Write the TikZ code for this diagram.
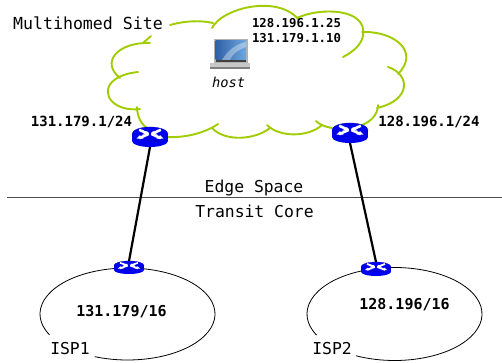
\documentclass[tikz,border=0pt]{standalone}
\usepackage{fontspec}
\setmainfont{DejaVu Sans Mono}
\definecolor{cloudgreen}{HTML}{A0CC00}
\definecolor{routerblue}{HTML}{0000F0}
\definecolor{routerdark}{HTML}{0000A8}
\definecolor{lapdark}{HTML}{2F5FA8}
\definecolor{laplight}{HTML}{6FA8DC}
\tikzset{
  cloudarc/.style={draw=cloudgreen,line width=1.9pt,line cap=round},
  txt/.style={inner sep=0pt,anchor=base,font=\fontsize{#1}{#1}\selectfont},
  boldtxt/.style={inner sep=0pt,anchor=base,font=\fontsize{#1}{#1}\selectfont\bfseries},
  uplink/.style={draw=black,line width=2.2pt},
  ispring/.style={draw=black,line width=0.8pt}
}
% name, x, y, width, height
\newcommand{\routericon}[5]{%
  \node[inner sep=0pt,outer sep=0pt,minimum width=#4pt,minimum height=#5pt] (#1) at (#2,#3) {};
  \begin{scope}[shift={(#1.center)},x=#4pt/2,y=-#5pt/2]
    \fill[routerblue] (-1,-0.3) rectangle (1,0.4);
    \fill[routerblue] (0,0.4) ellipse [x radius=1,y radius=0.6];
    \fill[routerblue] (0,-0.3) ellipse [x radius=1,y radius=0.7];
    \draw[routerdark,line width=0.3pt] (0,-0.3) ellipse [x radius=1,y radius=0.7];
    \draw[white,line width=#5pt*0.13] (-0.6,-0.72) -- (-0.08,-0.3);
    \draw[white,line width=#5pt*0.13] (0.6,0.12) -- (0.08,-0.3);
    \draw[white,line width=#5pt*0.13] (0.6,-0.72) -- (0.08,-0.3);
    \draw[white,line width=#5pt*0.13] (-0.6,0.12) -- (-0.08,-0.3);
    \fill[white] (-0.1,-0.28) -- (-0.42,-0.24) -- (-0.16,-0.6) -- cycle;
    \fill[white] (0.1,-0.28) -- (0.42,-0.24) -- (0.16,-0.6) -- cycle;
    \fill[white] (-0.75,0.16) -- (-0.36,0.16) -- (-0.56,-0.18) -- cycle;
    \fill[white] (0.75,0.16) -- (0.36,0.16) -- (0.56,-0.18) -- cycle;
  \end{scope}}
\begin{document}
\begin{tikzpicture}[x=1pt,y=-1pt]
\useasboundingbox (0,0) rectangle (502,363);
\fill[white] (0,0) rectangle (502,363);

% cloud
\draw[cloudarc] (170,25) .. controls (184,21) and (200,20) .. (213,23);
\draw[cloudarc] (212,28) .. controls (222,8) and (278,-6) .. (299,20);
\draw[cloudarc] (297,18) .. controls (320,7) and (368,8) .. (363,36) .. controls (361,45) and (353,52) .. (343,57);
\draw[cloudarc] (362,32) .. controls (395,31) and (420,52) .. (398,74);
\draw[cloudarc] (388,67) .. controls (410,74) and (412,100) .. (377,108);
\draw[cloudarc] (378,105) .. controls (378,115) and (370,122) .. (362,125);
\draw[cloudarc] (316,121) .. controls (320,125) and (326,127) .. (332,128);
\draw[cloudarc] (322,125) .. controls (309,137) and (280,138) .. (267,125);
\draw[cloudarc] (270,128) .. controls (255,140) and (225,142) .. (212,128);
\draw[cloudarc] (218,124) .. controls (205,133) and (185,138) .. (167,137);
\draw[cloudarc] (147,128) .. controls (141,124) and (137,116) .. (137,107);
\draw[cloudarc] (140,109) .. controls (115,112) and (100,95) .. (112,82) .. controls (118,76) and (128,73) .. (138,72);
\draw[cloudarc] (120,78) .. controls (100,62) and (118,42) .. (150,43);
\draw[cloudarc] (143,43) -- (151,36);

% laptop
\fill[black!30] (213.5,39) rectangle (248,63);
\shade[left color=lapdark,right color=laplight] (215.5,41) rectangle (246,60);
\fill[white,opacity=0.35] (222,60) .. controls (228,50) and (236,44) .. (246,42) -- (246,47) .. controls (238,50) and (232,54) .. (230,60) -- cycle;
\fill[black!75] (215.5,60) rectangle (246,62);
\fill[black!22] (210,63) rectangle (250,67);
\fill[black!50] (210,67) rectangle (250,69);

% horizon
\draw[draw=black!70,line width=0.8pt] (7,197.5) -- (502,197.5);

% ISP rings
\coordinate (ispa) at (127.5,314);
\coordinate (ispb) at (394.5,314);
\draw[ispring] ([shift={(153:87.5 and 46)}]ispa) arc[start angle=153,end angle=472,x radius=87.5,y radius=46];
\draw[ispring] ([shift={(153:87.5 and 46.5)}]ispb) arc[start angle=153,end angle=476,x radius=87.5,y radius=46.5];

% routers
\routericon{ra}{150}{137}{36}{20}
\routericon{rb}{350}{133}{36}{20}
\routericon{rc}{129}{267.5}{30}{13}
\routericon{rd}{376}{269}{30}{14}
\draw[uplink] (ra.south) -- (rc.north);
\draw[uplink] (rb.south) -- (rd.north);

% labels
\node[txt=16.6] (site) at (88,30) {Multihomed Site};
\node[txt=13.7,font=\fontsize{13.7}{13.7}\selectfont\itshape] (host) at (228.5,88) {host};
\node[boldtxt=12.3] (addra) at (296.5,28) {128.196.1.25};
\node[boldtxt=12.3] (addrb) at (296.5,43) {131.179.1.10};
\node[boldtxt=14] (pa) at (81.5,127) {131.179.1/24};
\node[boldtxt=14] (pb) at (429,127) {128.196.1/24};
\node[txt=16.4] (edge) at (254,192) {Edge Space};
\node[txt=16.4] (core) at (254.5,217) {Transit Core};
\node[txt=16.4] (ispone) at (70,354) {ISP1};
\node[txt=16.4] (isptwo) at (332,354) {ISP2};
\node[boldtxt=15] (preone) at (121.5,316) {131.179/16};
\node[boldtxt=15] (pretwo) at (404.5,309) {128.196/16};
\end{tikzpicture}
\end{document}
